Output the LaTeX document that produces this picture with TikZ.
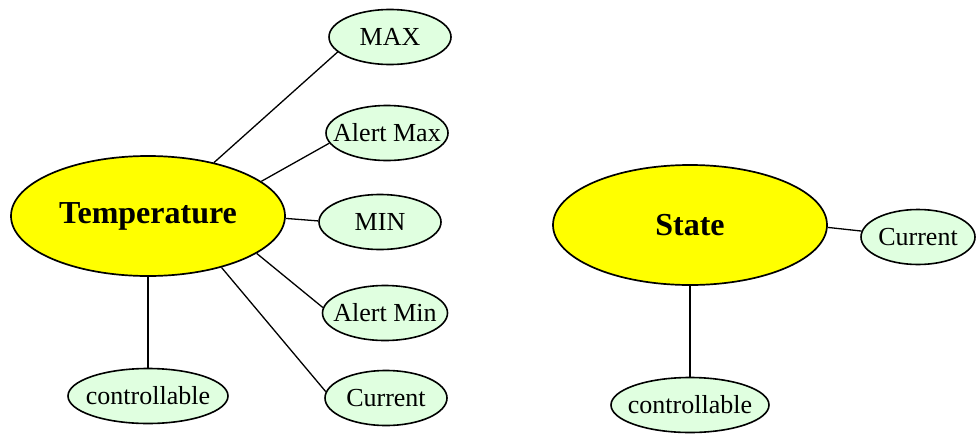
\documentclass[tikz,border=0pt]{standalone}
\usepackage{fontspec}
\setmainfont{Liberation Serif}
\usetikzlibrary{shapes.geometric}
\definecolor{topicfill}{RGB}{255,255,0}
\definecolor{leaffill}{RGB}{224,255,224}
\newcommand{\flatlbl}[1]{\makebox[0pt][c]{#1}}
\tikzset{
  topic/.style={ellipse, draw=black, line width=1.7pt, fill=topicfill,
    inner sep=0pt, minimum width=274pt, minimum height=120pt,
    font=\fontsize{32}{36}\selectfont\bfseries},
  leaf/.style={ellipse, draw=black, line width=1.6pt, fill=leaffill,
    inner sep=0pt, minimum width=122pt, minimum height=55pt,
    font=\fontsize{26}{30}\selectfont},
  link/.style={draw=black, line width=1.3pt}
}
\begin{document}
\begin{tikzpicture}[x=1pt, y=-1pt]
\useasboundingbox (0,0) rectangle (976,434);

% temperature topic and its attributes
\node[topic] (temp) at (148,216) {\flatlbl{Temperature}};
\node[leaf] (tmax) at (390,37) {\flatlbl{MAX}};
\node[leaf] (tamax) at (387,133) {\flatlbl{Alert Max}};
\node[leaf] (tmin) at (380,222) {\flatlbl{MIN}};
\node[leaf, minimum width=125pt] (tamin) at (385,313) {\flatlbl{Alert Min}};
\node[leaf] (tcur) at (386,398) {\flatlbl{Current}};
\node[leaf, minimum width=160pt] (tctl) at (148,396) {\flatlbl{controllable}};

% state topic and its attributes
\node[topic] (state) at (690,225) {\flatlbl{State}};
\node[leaf, minimum width=114pt] (scur) at (918,237) {\flatlbl{Current}};
\node[leaf, minimum width=158pt] (sctl) at (690,405) {\flatlbl{controllable}};

% connectors
\draw[link] (temp.39) -- (tmax.196);
\draw[link] (temp.17) -- (tamax.190);
\draw[link] (temp.-1.7) -- (tmin.179);
\draw[link] (temp.-19.4) -- (tamin.175);
\draw[link] (temp.-35.5) -- (tcur.174);
\draw[link] (temp.south) -- (tctl.north);
\draw[link] (state.-1.7) -- (scur.174);
\draw[link] (state.south) -- (sctl.north);
\end{tikzpicture}
\end{document}
